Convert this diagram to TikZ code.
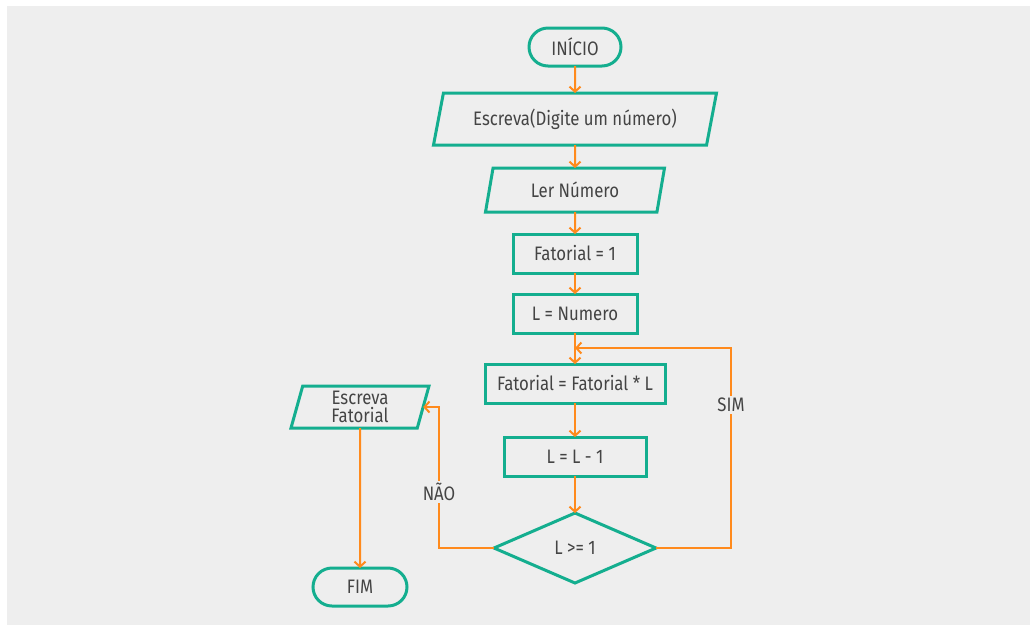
\documentclass[tikz,border=0pt]{standalone}
\usepackage{fontspec}
\setmainfont{Fira Sans}[FakeStretch=0.86]
\usetikzlibrary{shapes.geometric,shapes.misc,arrows.meta}
\definecolor{bg}{HTML}{EEEEEE}
\definecolor{grn}{HTML}{14AE8F}
\definecolor{org}{HTML}{FF8A1C}
\definecolor{txt}{HTML}{444444}
\begin{document}
\begin{tikzpicture}[x=1pt,y=-1pt,
  base/.style={draw=grn, line width=3pt, text=txt, inner sep=0pt, outer sep=0pt,
    font=\fontsize{19.5}{18.5}\selectfont, align=center},
  term/.style={base, rounded rectangle, minimum height=38pt},
  io/.style 2 args={base, trapezium, trapezium stretches body,
    trapezium left angle=#1, trapezium right angle=#2},
  proc/.style={base, rectangle, minimum height=39pt},
  decision/.style={base, diamond, aspect=2.31, minimum width=162pt, minimum height=70pt},
  flow/.style={draw=org, line width=2pt, -{Straight Barb[length=5pt,width=11pt,line width=2pt]}},
  lbl/.style={fill=bg, text=txt, inner sep=2pt, font=\fontsize{19.5}{19.5}\selectfont}]
\useasboundingbox (0,0) rectangle (1030,625);
\fill[white] (0,0) rectangle (1030,625);
\fill[bg] (7,6) rectangle (1030,625);

\node[term, minimum width=92pt] (start) at (575,47) {INÍCIO};
\node[io={64.3}{115.7}, minimum width=283pt, minimum height=52pt] (in1) at (575,119) {Escreva(Digite um número)};
\node[io={64.5}{115.5}, minimum width=179pt, minimum height=44pt] (in2) at (575,190) {Ler Número};
\node[proc, minimum width=124pt] (f1) at (575,253.5) {Fatorial = 1};
\node[proc, minimum width=124pt] (ln) at (575,313.5) {L = Numero};
\node[proc, minimum width=180pt] (ff) at (575,383.5) {Fatorial = Fatorial * L};
\node[proc, minimum width=142pt] (ll) at (575,456.5) {L = L - 1};
\node[decision] (dec) at (575,548) {L >= 1};
\node[io={70}{110}, minimum width=138pt, minimum height=42pt] (ef) at (360,407) {Escreva\\Fatorial};
\node[term, minimum width=94pt] (fim) at (360,587) {FIM};
\coordinate (join) at (575,348);

\draw[flow] (start.south) -- (in1.north);
\draw[flow] (in1.south) -- (in2.north);
\draw[flow] (in2.south) -- (f1.north);
\draw[flow] (f1.south) -- (ln.north);
\draw[flow] (ln.south) -- (ff.north);
\draw[flow] (ff.south) -- (ll.north);
\draw[flow] (ll.south) -- (dec.north);
\draw[flow] (dec.east) -- ++(75,0) |- (join)
  node[lbl, pos=0.357] {SIM};
\draw[flow] (dec.west) -- ++(-55,0) |- (ef.east)
  node[lbl, pos=0.2] {NÃO};
\draw[flow] (ef.south) -- (fim.north);
\end{tikzpicture}
\end{document}
